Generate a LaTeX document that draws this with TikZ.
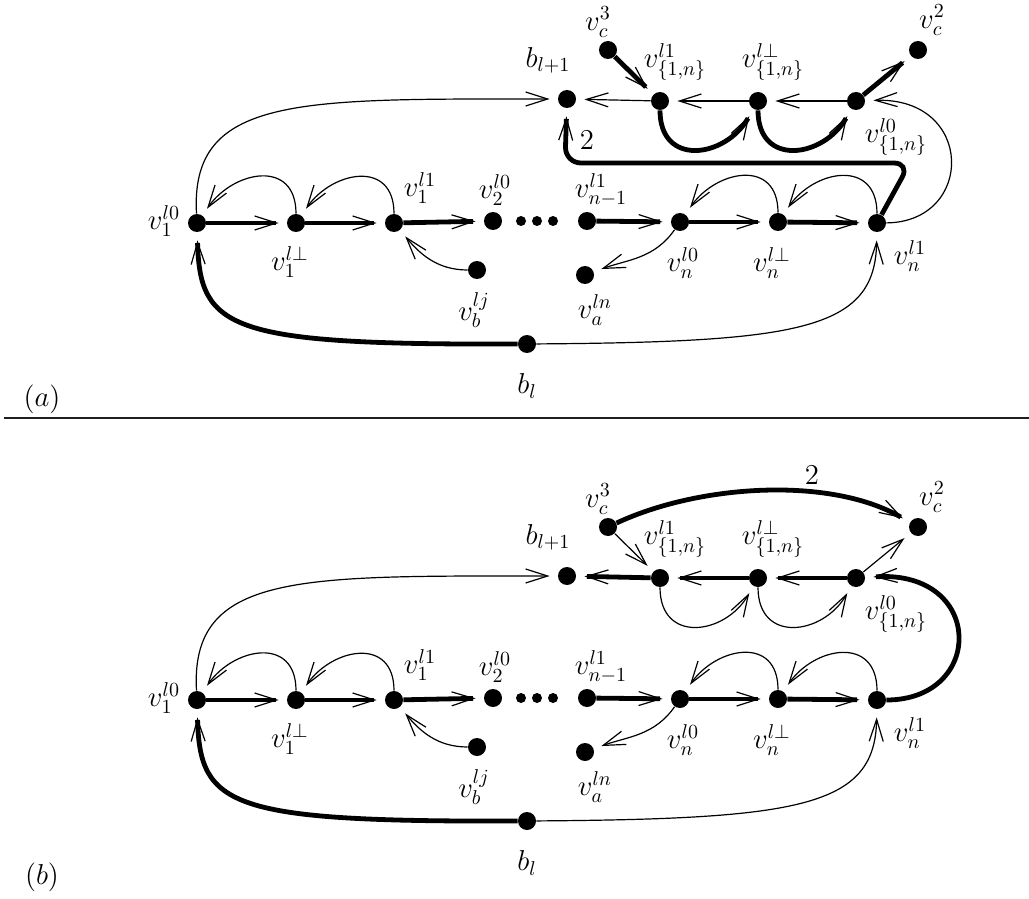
\documentclass[tikz,border=0pt]{standalone}
\usetikzlibrary{arrows.meta}
\newcommand\panelcommon[1]{%
 \node[dot] (#1v1l0) at (197,223) {};
 \node[dot] (#1v1lp) at (296,223) {};
 \node[dot] (#1v1l1) at (394,223) {};
 \node[dot] (#1v2l0) at (493,221) {};
 \node[sdot] (#1d1) at (521,221) {};
 \node[sdot] (#1d2) at (537,221) {};
 \node[sdot] (#1d3) at (553,221) {};
 \node[dot] (#1vnm) at (587,221) {};
 \node[dot] (#1vnl0) at (680,222) {};
 \node[dot] (#1vnlp) at (778,222) {};
 \node[dot] (#1vnl1) at (877,223) {};
 \node[dot] (#1vbj) at (477,270) {};
 \node[dot] (#1van) at (585,275) {};
 \node[dot] (#1bl) at (527,344) {};
 \node[dot] (#1blp) at (567,99) {};
 \node[dot] (#1vsl1) at (660,101) {};
 \node[dot] (#1vslp) at (758,101) {};
 \node[dot] (#1vsl0) at (856,101) {};
 \node[dot] (#1vcc) at (608,50) {};
 \node[dot] (#1vcb) at (918,50) {};
 \node[lab] (#1Lv1l0) at (164,221) {$v_1^{l0}$};
 \node[lab] (#1Lv1lp) at (290,262) {$v_1^{l\perp}$};
 \node[lab] (#1Lv1l1) at (420,188) {$v_1^{l1}$};
 \node[lab] (#1Lv2l0) at (495,190) {$v_2^{l0}$};
 \node[lab] (#1Lvnm) at (601,190) {$v_{n-1}^{l1}$};
 \node[lab] (#1Lvnl0) at (683,263) {$v_n^{l0}$};
 \node[lab] (#1Lvnlp) at (772,263) {$v_n^{l\perp}$};
 \node[lab] (#1Lvnl1) at (910,256) {$v_n^{l1}$};
 \node[lab] (#1Lvbj) at (474,310) {$v_b^{lj}$};
 \node[lab] (#1Lvan) at (595,310) {$v_a^{ln}$};
 \node[lab] (#1Lbl) at (527,386) {$b_l$};
 \node[lab] (#1Lblp) at (548,60) {$b_{l+1}$};
 \node[lab] (#1Lvcc) at (598,22) {$v_c^3$};
 \node[lab] (#1Lvcb) at (932,20) {$v_c^2$};
 \node[lab] (#1Lvsl1) at (675,62) {$v_{\{1,n\}}^{l1}$};
 \node[lab] (#1Lvslp) at (773,62) {$v_{\{1,n\}}^{l\perp}$};
 \node[lab] (#1Lvsl0) at (896,137) {$v_{\{1,n\}}^{l0}$};
 \draw[thk,arr] (#1v1l0) -- (#1v1lp);
 \draw[thk,arr] (#1v1lp) -- (#1v1l1);
 \draw[thk,arr] (#1v1l1) -- (#1v2l0);
 \draw[thk,arr] (#1vnm) -- (#1vnl0);
 \draw[thk,arr] (#1vnl0) -- (#1vnlp);
 \draw[thk,arr] (#1vnlp) -- (#1vnl1);
 \draw[thn,arr] (#1v1lp) to[out=90,in=55,looseness=1.5] (#1v1l0);
 \draw[thn,arr] (#1v1l1) to[out=90,in=55,looseness=1.5] (#1v1lp);
 \draw[thn,arr] (#1vnlp) to[out=90,in=55,looseness=1.5] (#1vnl0);
 \draw[thn,arr] (#1vnl1) to[out=90,in=55,looseness=1.5] (#1vnlp);
 \draw[thn,arr] (#1v1l0) .. controls (190,95) and (300,99) .. (#1blp);
 \draw[thk,arr] (#1bl) .. controls (230,345) and (200,330) .. (#1v1l0);
 \draw[thn,arr] (#1bl) .. controls (800,342) and (875,330) .. (#1vnl1);
 \draw[thn,arr] (#1vbj) to[out=180,in=-50] (#1v1l1);
 \draw[thn,arr] (#1vnl0) to[out=-125,in=20] (#1van);
}
\begin{document}
\begin{tikzpicture}[x=0.5pt,y=-0.5pt,
  dot/.style={circle,fill,inner sep=0pt,minimum size=9pt},
  sdot/.style={circle,fill,inner sep=0pt,minimum size=5pt},
  lab/.style={inner sep=0pt,font=\fontsize{14}{17}\selectfont},
  thn/.style={line width=0.6pt},
  thk/.style={line width=2.4pt},
  arr/.style={-{Straight Barb[length=11pt,width=7pt,line width=0.6pt]},shorten >=4pt},
]
\useasboundingbox (0,0) rectangle (1029,899);
% panel (a)
\panelcommon{a}
\draw[thn,arr] (avsl1) -- (ablp);
\draw[thn,arr] (avslp) -- (avsl1);
\draw[thn,arr] (avsl0) -- (avslp);
\draw[thk,arr] (avsl1) to[out=-90,in=-120,looseness=1.55] (avslp);
\draw[thk,arr] (avslp) to[out=-90,in=-120,looseness=1.55] (avsl0);
\draw[thk,arr] (avcc) -- (avsl1);
\draw[thk,arr] (avsl0) -- (avcb);
\draw[thn,arr] (avnl1) .. controls (975,222) and (975,97) .. (avsl0);
\draw[thk,arr,rounded corners=8pt] (avnl1) -- (910,163) -- (565,163) -- (ablp);
\node[lab] (atwo) at (587,140) {$2$};
\node[lab] (alabel) at (42,399) {$(a)$};
\draw[line width=1pt,black!88] (4,418) coordinate (sepL) -- (1029,418) coordinate (sepR);
% panel (b)
\begin{scope}[shift={(0,477)}]
\panelcommon{b}
\end{scope}
\draw[thk,arr] (bvsl1) -- (bblp);
\draw[thk,arr] (bvslp) -- (bvsl1);
\draw[thk,arr] (bvsl0) -- (bvslp);
\draw[thn,arr] (bvsl1) to[out=-90,in=-120,looseness=1.55] (bvslp);
\draw[thn,arr] (bvslp) to[out=-90,in=-120,looseness=1.55] (bvsl0);
\draw[thn,arr] (bvcc) -- (bvsl1);
\draw[thn,arr] (bvsl0) -- (bvcb);
\draw[thk,arr] (bvcc) to[out=25,in=150,looseness=0.8] (bvcb);
\node[lab] (btwo) at (812,475) {$2$};
\draw[thk,arr] (bvnl1) .. controls (985,700) and (985,570) .. (bvsl0);
\node[lab] (blabel) at (42,877) {$(b)$};
\end{tikzpicture}
\end{document}
